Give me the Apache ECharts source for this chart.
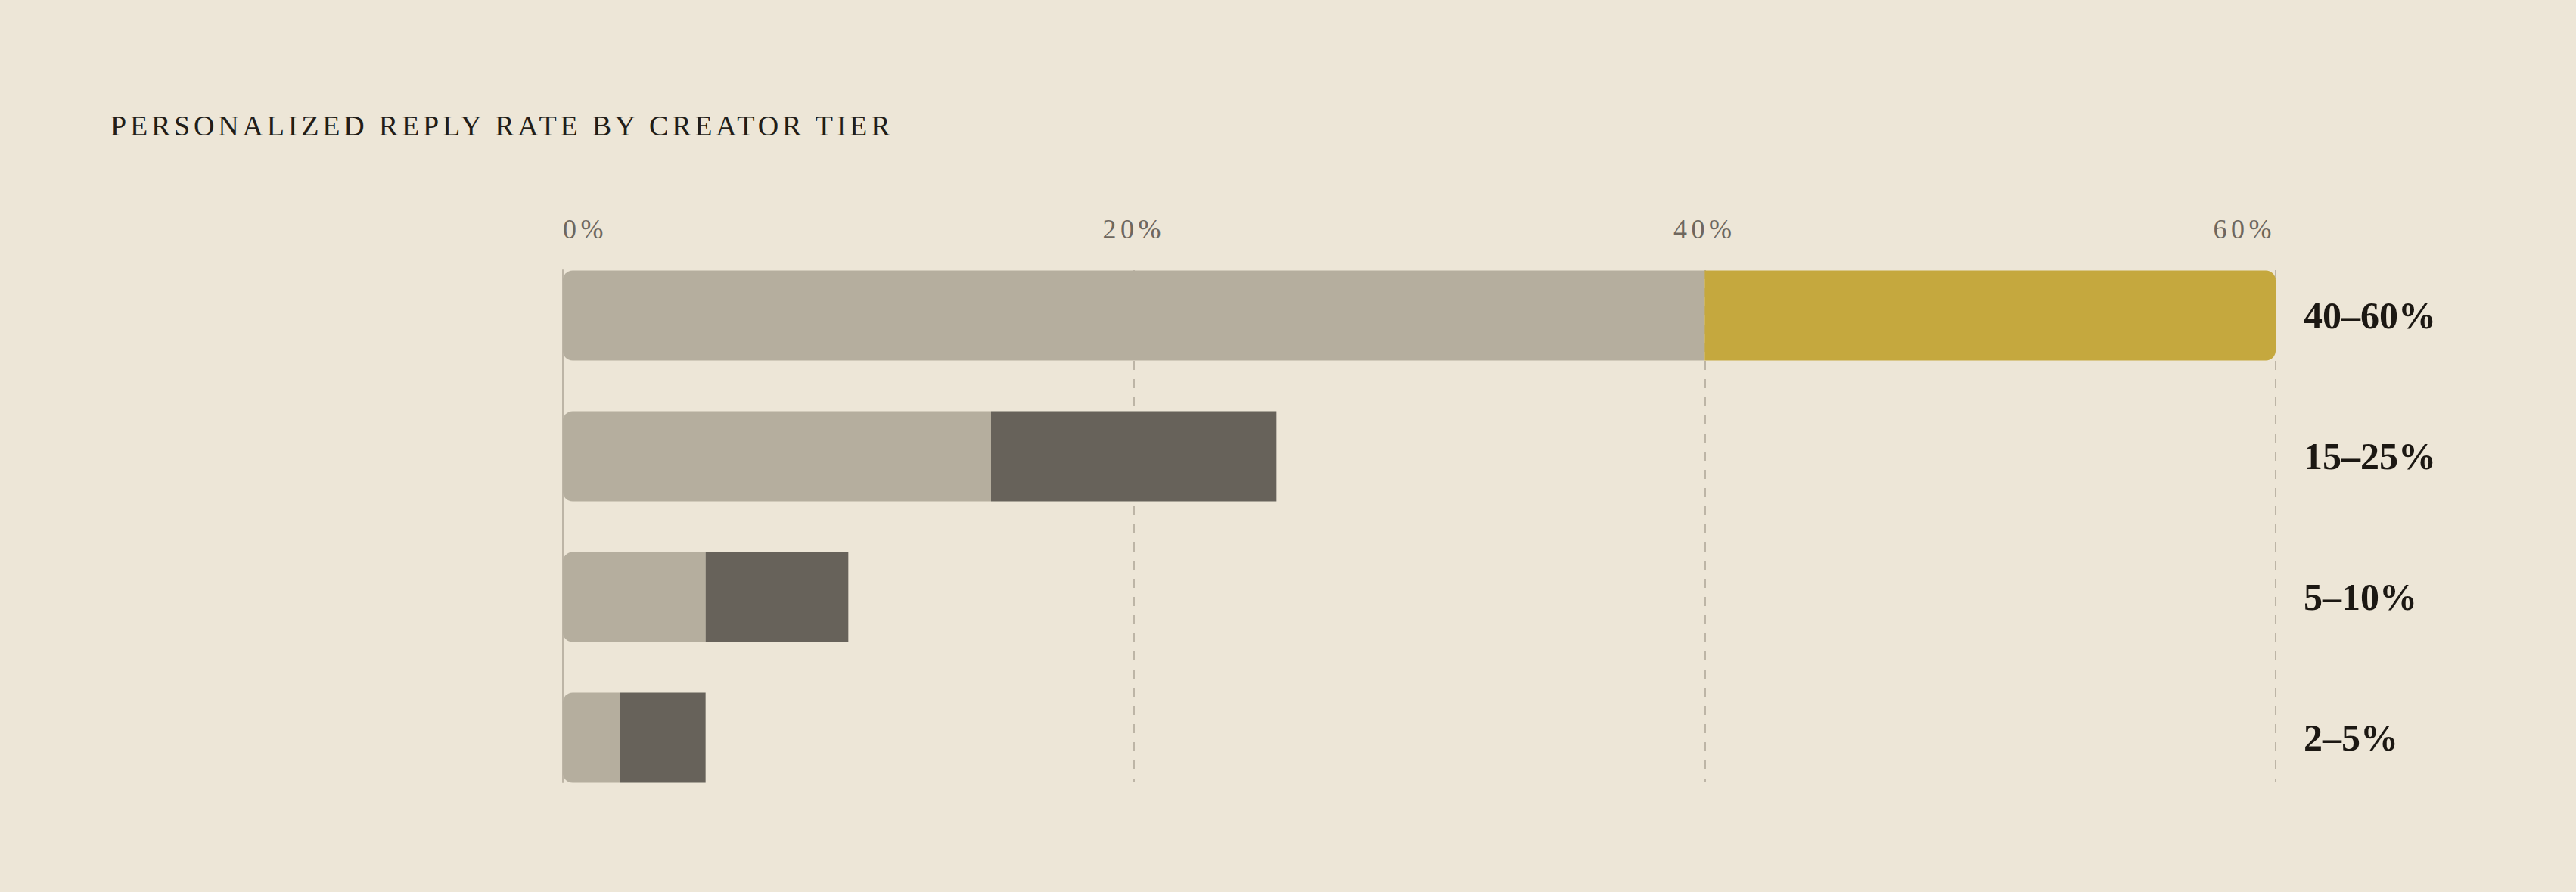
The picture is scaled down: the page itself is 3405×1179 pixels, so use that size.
<!DOCTYPE html>
<html>
<head>
<meta charset="utf-8">
<script src="https://cdn.jsdelivr.net/npm/echarts@6/dist/echarts.min.js"></script>
<style>
html,body{margin:0;padding:0;background:#ede6d7;}
#chart{width:3405px;height:1179px;}
</style>
</head>
<body>
<div id="chart"></div>
<script>
const titleText = 'PERSONALIZED REPLY RATE BY CREATOR TIER';
const categories = ['40–60%', '15–25%', '5–10%', '2–5%'];
const rangeMin = [40, 15, 5, 2];
const rangeMax = [60, 25, 10, 5];
const axisTicks = [0, 20, 40, 60];
const highlightIndex = 0;

const BG = '#ede6d7';
const LIGHT = '#b5ae9e';
const DARK = '#67625a';
const GOLD = '#c5a83e';

const spanValues = rangeMax.map((v, i) => ({
  value: v - rangeMin[i],
  itemStyle: i === highlightIndex
    ? { color: GOLD, borderRadius: [0, 13, 13, 0] }
    : { color: DARK, borderRadius: 0 }
}));

const tickLabels = axisTicks.map(t => t + '%');

const chart = echarts.init(document.getElementById('chart'), null, { renderer: 'svg' });
chart.setOption({
  backgroundColor: BG,
  animation: false,
  title: {
    text: titleText,
    left: 141,
    top: 142,
    textStyle: {
      fontFamily: 'Liberation Serif',
      fontWeight: 'normal',
      fontSize: 38,
      color: '#221d18'
    }
  },
  grid: [
    { left: 744, right: 397, top: 324, height: 744 },
    { left: 744, right: 397, top: 357, height: 677 }
  ],
  xAxis: [
    { gridIndex: 0, type: 'value', min: 0, max: 60, show: false },
    {
      gridIndex: 1, type: 'value', position: 'top',
      min: axisTicks[0], max: axisTicks[axisTicks.length - 1],
      interval: axisTicks[1] - axisTicks[0],
      axisLine: { show: false },
      axisTick: { show: false },
      axisLabel: {
        formatter: '{value}%',
        margin: 36,
        fontFamily: 'Liberation Serif',
        fontSize: 36,
        color: '#6e675e',
        alignMinLabel: 'left',
        alignMaxLabel: 'right'
      },
      splitLine: {
        show: true,
        showMinLine: false,
        lineStyle: { color: '#bdb5a6', width: 2, type: [12, 12] }
      }
    }
  ],
  yAxis: [
    {
      gridIndex: 0, type: 'category', inverse: true, position: 'right',
      data: categories,
      axisLine: { show: false },
      axisTick: { show: false },
      axisLabel: {
        margin: 37,
        align: 'left',
        fontFamily: 'Liberation Serif',
        fontWeight: 'bold',
        fontSize: 50,
        color: '#1c1813'
      }
    },
    {
      gridIndex: 1, type: 'value', position: 'left', min: 0, max: 1,
      axisLine: { show: true, onZero: false, lineStyle: { color: '#bdb5a6', width: 2 } },
      axisTick: { show: false },
      axisLabel: { show: false },
      splitLine: { show: false }
    }
  ],
  series: [
    {
      name: 'Low end',
      type: 'bar',
      xAxisIndex: 0, yAxisIndex: 0,
      stack: 'range',
      barWidth: 119,
      data: rangeMin,
      itemStyle: { color: LIGHT, borderRadius: [13, 0, 0, 13] },
      z: 3
    },
    {
      name: 'Range',
      type: 'bar',
      xAxisIndex: 0, yAxisIndex: 0,
      stack: 'range',
      barWidth: 119,
      data: spanValues,
      z: 3
    }
  ]
});

// Letter-spacing for the tracked title and tick labels (SVG text styling)
function applyTracking() {
  document.querySelectorAll('#chart svg text').forEach(function (el) {
    const t = el.textContent;
    if (t === titleText) {
      el.style.letterSpacing = '4.8px';
    } else if (tickLabels.indexOf(t) >= 0) {
      el.style.letterSpacing = '5.5px';
    }
  });
}
applyTracking();
chart.on('finished', applyTracking);
</script>
</body>
</html>
